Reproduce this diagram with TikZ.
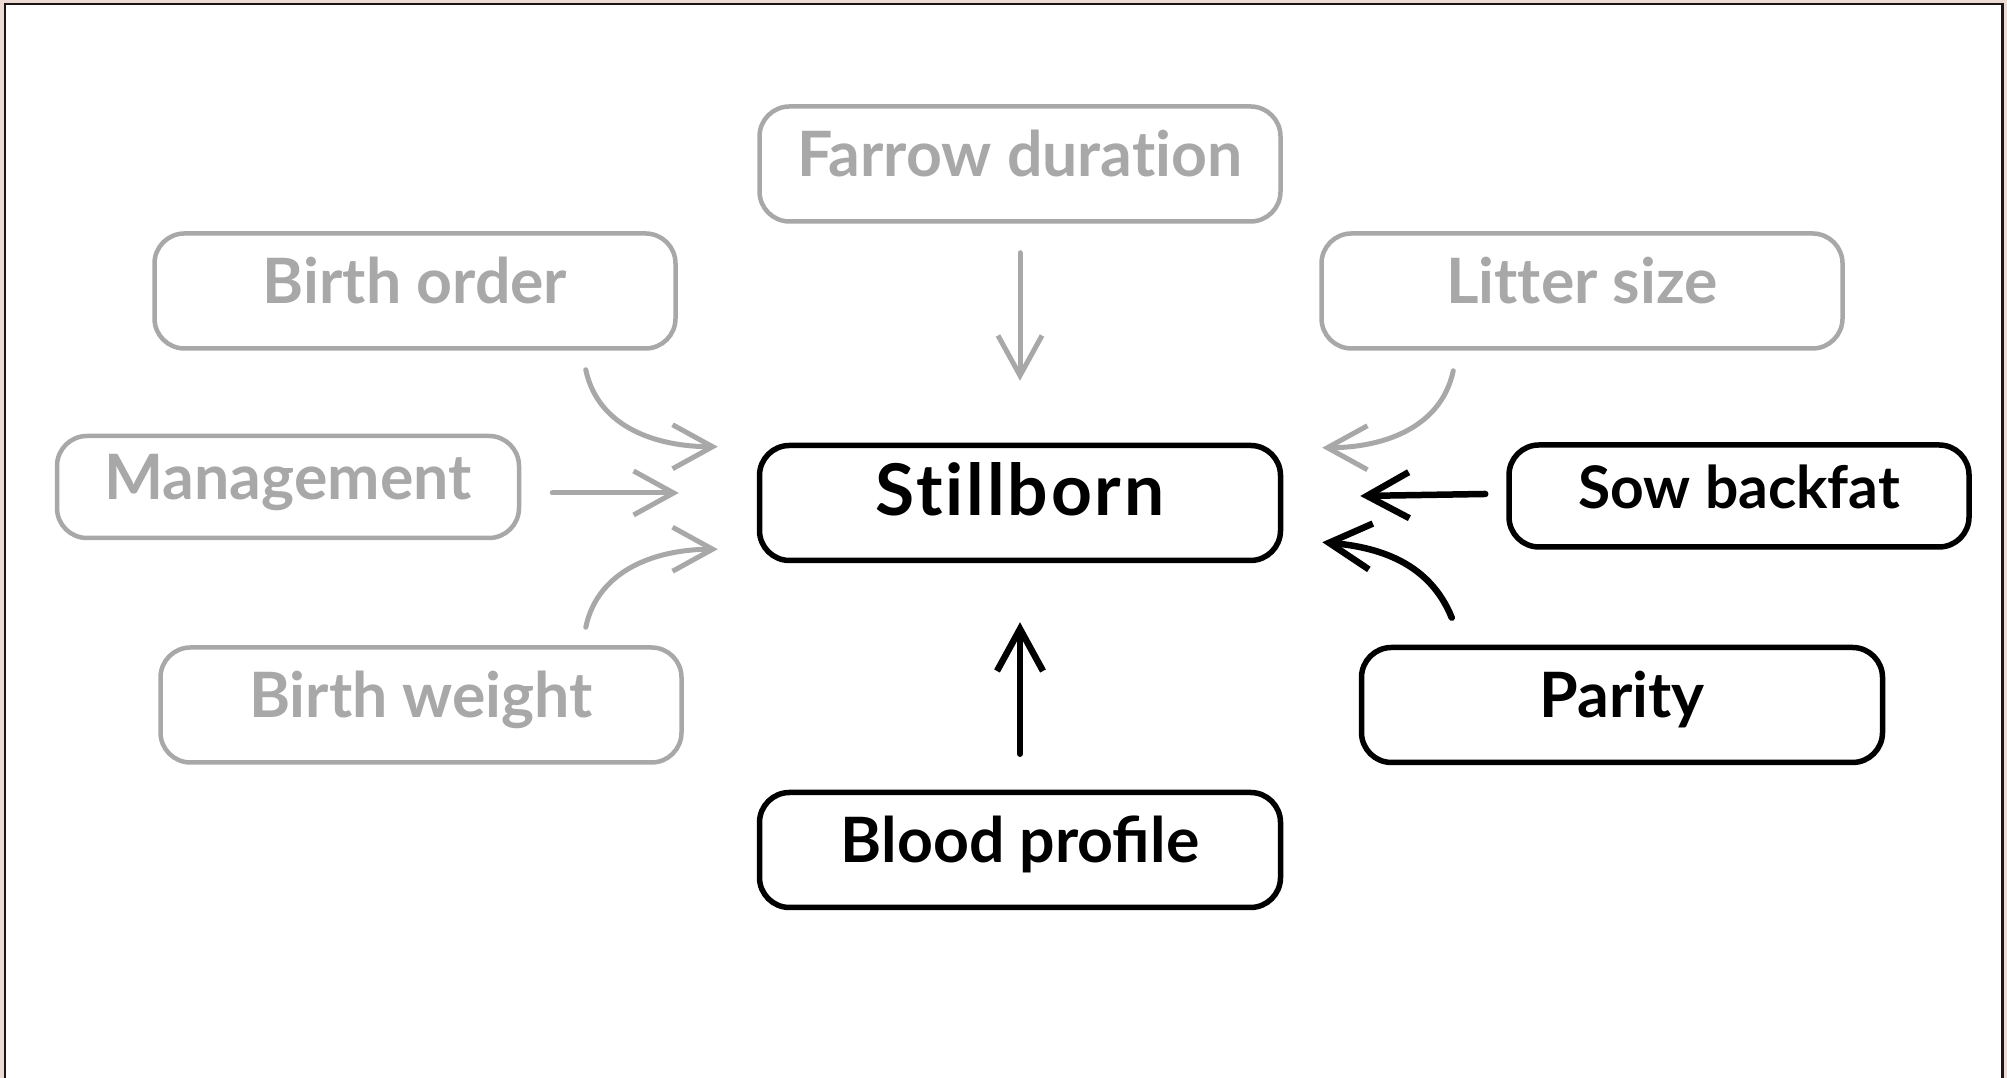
\documentclass[tikz,border=0pt]{standalone}
\usepackage{fontspec}
\setmainfont{Lato}[Ligatures=NoCommon]
\usetikzlibrary{arrows.meta}
\definecolor{fadegray}{RGB}{168,168,168}
\definecolor{edgepink}{RGB}{236,218,212}
\definecolor{framedark}{RGB}{30,22,22}
\tikzset{
	factor/.style={draw, rounded corners=0.3cm, minimum width=5.21cm, minimum height=1.15cm, inner sep=0pt, text height=0.45cm, text depth=0.2cm, font=\bfseries\fontsize{17.8}{20}\selectfont},
	faded/.style={factor, color=fadegray, line width=0.045cm},
	known/.style={factor, color=black, line width=0.055cm},
	fadearrow/.style={color=fadegray, line width=0.05cm, line cap=round, -{Straight Barb[length=0.4cm,width=0.44cm]}},
	knownarrow/.style={color=black, line width=0.065cm, line cap=round, -{Straight Barb[length=0.42cm,width=0.46cm]}}
}

\begin{document}
\begin{tikzpicture}
			%%%%% START %%%%%
			
			\useasboundingbox (0, 0) rectangle (20.07, 10.78);
			\fill[edgepink] (0, 0) rectangle (20.07, 10.78);
			\fill[white] (0.05, -0.1) rectangle (20.025, 10.74);
			\draw[line width=0.025cm, color=framedark] (0.05, -0.1) -- (0.05, 10.74) -- (20.025, 10.74) -- (20.025, -0.1);
			
			\node[faded] (farrow) at (10.20, 9.14) {Farrow duration};
			\node[faded] (birthorder) at (4.15, 7.87) {Birth order};
			\node[faded] (litter) at (15.82, 7.87) {Litter size};
			\node[faded, minimum width=4.62cm, minimum height=1.02cm] (management) at (2.88, 5.91) {Management};
			
			\node[known, font=\bfseries\fontsize{20.3}{22}\selectfont\addfontfeatures{LetterSpace=4}] (stillborn) at (10.20, 5.75) {Stillborn};
			\node[known, minimum width=4.6cm, minimum height=1.02cm, font=\bfseries\fontsize{16.7}{18}\selectfont] (sowbackfat) at (17.39, 5.82) {Sow backfat};
			
			\node[faded] (birthweight) at (4.21, 3.73) {Birth weight};
			\node[known] (parity) at (16.22, 3.73) {Parity};
			\node[known] (blood) at (10.20, 2.28) {Blood pro^^^^fb01le};
			
			% grey causes
			\draw[fadearrow, shorten <=0.29cm, shorten >=0.62cm] (farrow) -- (stillborn);
			\draw[fadearrow] ([xshift=-0.92cm, yshift=-0.19cm]birthorder.south east) to[out=-78, in=180] ([xshift=-0.39cm, yshift=-0.04cm]stillborn.north west);
			\draw[fadearrow] ([xshift=0.31cm, yshift=-0.06cm]management.east) -- ([xshift=-0.78cm, yshift=0.10cm]stillborn.west);
			\draw[fadearrow] ([xshift=-0.98cm, yshift=0.18cm]birthweight.north east) to[out=78, in=180] ([xshift=-0.39cm, yshift=0.14cm]stillborn.south west);
			\draw[fadearrow] ([xshift=1.34cm, yshift=-0.20cm]litter.south west) to[out=-102, in=0] ([xshift=0.39cm, yshift=-0.05cm]stillborn.north east);
			
			% black causes
			\draw[knownarrow] ([xshift=-0.21cm, yshift=0.02cm]sowbackfat.west) -- ([xshift=0.77cm, yshift=0.07cm]stillborn.east);
			\draw[knownarrow] ([xshift=0.93cm, yshift=0.27cm]parity.north west) to[out=112, in=-5] ([xshift=0.39cm, yshift=0.21cm]stillborn.south east);
			\draw[knownarrow, shorten <=0.36cm, shorten >=0.59cm] (blood) -- (stillborn);
			
			%%%%% END %%%%%
\end{tikzpicture}
\end{document}
